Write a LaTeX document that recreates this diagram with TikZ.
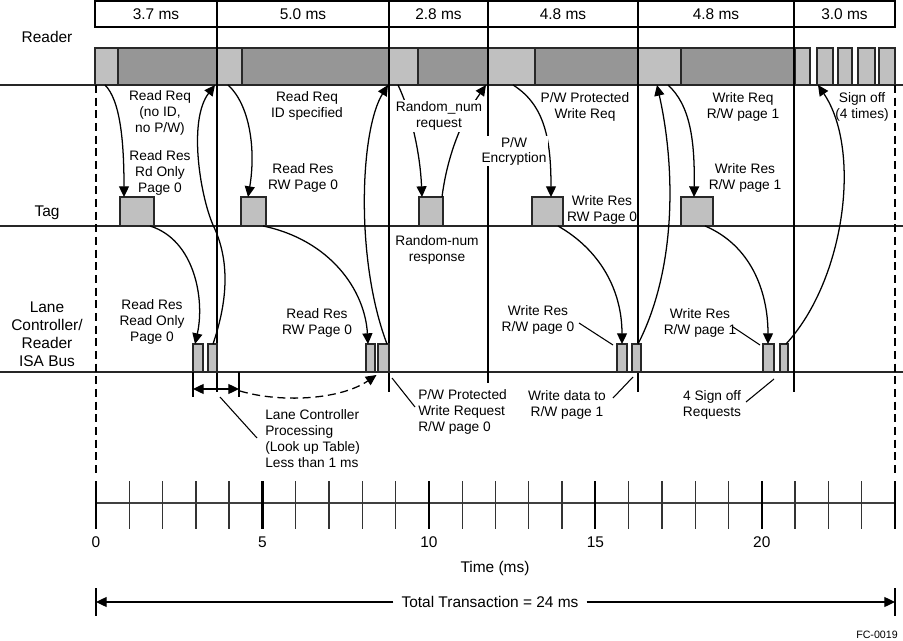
\documentclass[tikz,border=0pt]{standalone}
\usepackage{fontspec}
\setmainfont{Liberation Sans}
\usetikzlibrary{arrows.meta,calc}
\definecolor{lgray}{RGB}{192,192,192}
\definecolor{dgray}{RGB}{150,150,150}
\definecolor{edgec}{RGB}{40,40,40}
\newcommand\mkbox[7]{\node[#1,anchor=north west,minimum width={(#4-#3)*0.75pt},minimum height={(#6-#5)*0.75pt}] (#2) at (#3,#5) {#7};}
\begin{document}
\begin{tikzpicture}[x=0.75pt,y=-0.75pt,
  big/.style={font=\fontsize{11.6}{13.5}\selectfont, inner sep=0pt, align=center},
  sml/.style={font=\fontsize{10.3}{12}\selectfont, align=center, inner sep=0pt},
  hdr/.style={draw=black, line width=1pt, font=\fontsize{11.6}{13.5}\selectfont, inner sep=0pt, outer sep=0pt},
  lbox/.style={draw=edgec, fill=lgray, line width=0.9pt, inner sep=0pt, outer sep=0pt},
  dbox/.style={draw=edgec, fill=dgray, line width=0.9pt, inner sep=0pt, outer sep=0pt},
  rowline/.style={line width=1.2pt, black!85},
  divline/.style={line width=1pt},
  dashline/.style={line width=1pt, dash pattern=on 6pt off 3.5pt},
  arr/.style={line width=0.95pt, -{Triangle[length=8pt,width=7.5pt]}},
  leader/.style={line width=0.8pt},
  tickline/.style={line width=1pt, black!80},
  majtick/.style={line width=1.7pt, black}
]
\useasboundingbox (0,0) rectangle (903,641);

% header
\mkbox{hdr}{h1}{95}{217}{1}{27}{3.7 ms}
\mkbox{hdr}{h2}{217}{389}{1}{27}{5.0 ms}
\mkbox{hdr}{h3}{389}{488}{1}{27}{2.8 ms}
\mkbox{hdr}{h4}{488}{638}{1}{27}{4.8 ms}
\mkbox{hdr}{h5}{638}{794}{1}{27}{4.8 ms}
\mkbox{hdr}{h6}{794}{895}{1}{27}{3.0 ms}

% reader bar
\mkbox{lbox}{r1l}{95}{118}{48}{85}{}
\mkbox{dbox}{r1d}{118}{217}{48}{85}{}
\mkbox{lbox}{r2l}{217}{242}{48}{85}{}
\mkbox{dbox}{r2d}{242}{389}{48}{85}{}
\mkbox{lbox}{r3l}{389}{418}{48}{85}{}
\mkbox{dbox}{r3d}{418}{488}{48}{85}{}
\mkbox{lbox}{r4l}{488}{535}{48}{85}{}
\mkbox{dbox}{r4d}{535}{638}{48}{85}{}
\mkbox{lbox}{r5l}{638}{681}{48}{85}{}
\mkbox{dbox}{r5d}{681}{794}{48}{85}{}
\mkbox{lbox}{r6a}{795}{810}{48}{85}{}
\mkbox{lbox}{r6b}{817}{833}{48}{85}{}
\mkbox{lbox}{r6c}{838}{852}{48}{85}{}
\mkbox{lbox}{r6d}{858}{875}{48}{85}{}
\mkbox{lbox}{r6e}{879}{895}{48}{85}{}

% row lines
\coordinate (ra) at (0,85);  \coordinate (rb) at (903,85);
\coordinate (ta) at (0,226); \coordinate (tb) at (903,226);
\coordinate (ia) at (0,372); \coordinate (ib) at (903,372);
\draw[rowline] (ra) -- (rb);
\draw[rowline] (ta) -- (tb);
\draw[rowline] (ia) -- (ib);

% dividers
\draw[divline] (h1.north east) -- ++(0,391);
\draw[divline] (h2.north east) -- ++(0,391);
\draw[divline] (h3.north east) -- ++(0,382);
\draw[divline] (h4.north east) -- ++(0,391);
\draw[divline] (h5.north east) -- ++(0,391);

% dashed borders
\draw[dashline] ($(r1l.south west)+(1,0)$) -- ++(0,390);
\draw[dashline] (r6e.south east) -- ++(0,390);

% row labels
\node[big] (lreader) at (47,37) {Reader};
\node[big] (ltag) at (47,213) {Tag};
\node[big] (lisa) at (47,334) {Lane\\Controller/\\Reader\\ISA Bus};

% tag boxes
\mkbox{lbox}{t1}{120}{154}{197}{226}{}
\mkbox{lbox}{t2}{241}{266}{197}{226}{}
\mkbox{lbox}{t3}{419}{443}{197}{226}{}
\mkbox{lbox}{t4}{532}{563}{197}{226}{}
\mkbox{lbox}{t5}{681}{713}{197}{226}{}

% ISA boxes
\mkbox{lbox}{i1}{193}{203}{344}{372}{}
\mkbox{lbox}{i2}{208}{217}{344}{372}{}
\mkbox{lbox}{i3}{366}{375}{344}{372}{}
\mkbox{lbox}{i4}{378}{389}{344}{372}{}
\mkbox{lbox}{i5}{617}{627}{344}{372}{}
\mkbox{lbox}{i6}{632}{641}{344}{372}{}
\mkbox{lbox}{i7}{763}{774}{344}{372}{}
\mkbox{lbox}{i8}{780}{788}{344}{372}{}

% arrows
\draw[arr] ($(r1l.south west)+(10,0)$) .. controls (120,100) and (124,140) .. ($(t1.north west)+(4,0)$);
\draw[arr] ($(i2.north west)+(5,0)$) .. controls (228,300) and (230,260) .. (213,225) .. controls (200,195) and (188,120) .. ($(r1d.south east)+(-2,0)$);
\draw[arr] ($(t1.south west)+(30,0)$) .. controls (195,240) and (205,300) .. ($(i1.north west)+(2,0)$);
\draw[arr] ($(r2l.south west)+(11,0)$) .. controls (250,105) and (256,150) .. ($(t2.north west)+(7,0)$);
\draw[arr] ($(i4.north west)+(9,0)$) .. controls (355,260) and (360,130) .. ($(r2d.south east)+(-1,0)$);
\draw[arr] ($(t2.south west)+(22,0)$) .. controls (330,240) and (365,290) .. ($(i3.north west)+(2,0)$);
\draw[arr] ($(r3l.south west)+(9,0)$) .. controls (410,110) and (420,150) .. ($(t3.north west)+(3,0)$);
\draw[arr] ($(t3.north east)+(-1,0)$) .. controls (448,150) and (465,115) .. ($(r3d.south east)+(-2,0)$);
\draw[arr] ($(r4l.south west)+(25,0)$) .. controls (545,105) and (551,140) .. ($(t4.north west)+(19,0)$);
\draw[arr] ($(t4.south west)+(26,0)$) .. controls (600,250) and (622,290) .. ($(i5.north west)+(5,0)$);
\draw[arr] ($(i6.north west)+(6,0)$) .. controls (676,270) and (676,170) .. ($(r5l.south west)+(19,0)$);
\draw[arr] ($(r5l.south west)+(30,0)$) .. controls (690,105) and (695,140) .. ($(t5.north west)+(13,0)$);
\draw[arr] ($(t5.south west)+(24,0)$) .. controls (750,245) and (768,290) .. ($(i7.north west)+(5,0)$);
\draw[arr] ($(i8.north west)+(6,0)$) .. controls (845,280) and (862,150) .. ($(r6b.south west)+(1,0)$);

% labels, reader -> tag
\node[sml] (n1) at (160,113) {Read Req\\(no ID,\\no P/W)};
\node[sml] (n2) at (160,173) {Read Res\\Rd Only\\Page 0};
\node[sml] (n3) at (307,106) {Read Req\\ID specified};
\node[sml] (n4) at (303,178) {Read Res\\RW Page 0};
\node[sml, fill=white, inner sep=1pt] (n5) at (439,116) {Random\_num\\request};
\node[sml] (n6) at (585,107) {P/W Protected\\Write Req};
\node[sml, fill=white, inner sep=1pt, font=\fontsize{10.3}{11.2}\selectfont] (n7) at (514,151) {P/W\\Encryption};
\node[sml] (n8) at (602,210) {Write Res\\RW Page 0};
\node[sml] (n9) at (743,107) {Write Req\\R/W page 1};
\node[sml] (n10) at (745,178) {Write Res\\R/W page 1};
\node[sml] (n11) at (862,107) {Sign off\\(4 times)};

% labels, tag -> ISA
\node[sml] (m1) at (437,250) {Random-num\\response};
\node[sml] (m2) at (152,322) {Read Res\\Read Only\\Page 0};
\node[sml] (m3) at (317,323) {Read Res\\RW Page 0};
\node[sml] (m4) at (538,320) {Write Res\\R/W page 0};
\node[sml] (m5) at (700,323) {Write Res\\R/W page 1};
\coordinate (w0L) at (579,323);
\coordinate (w1L) at (733,327);
\draw[leader] (w0L) -- ($(i5.north west)+(-4,1)$);
\draw[leader] (w1L) -- ($(i7.north west)+(-3,1)$);

% below ISA
\coordinate (q1) at (239,372);
\draw[divline] (i1.south west) -- ++(0,25);
\draw[divline] (q1) -- ++(0,25);
\draw[line width=0.95pt, {Triangle[length=8pt,width=7.5pt]}-{Triangle[length=8pt,width=7.5pt]}] ($(i1.south west)+(0,17)$) -- ($(q1)+(0,17)$);
\draw[line width=0.95pt, dash pattern=on 6pt off 3.5pt, -{Triangle[length=8pt,width=7.5pt]}] ($(q1)+(1,19)$) .. controls (280,403) and (340,400) .. ($(i3.south east)!0.5!(i4.south west)+(0,3)$);

\node[sml, anchor=west, align=left] (proc) at (265,439) {Lane Controller\\Processing\\(Look up Table)\\Less than 1 ms};
\draw[leader] ($(proc.west)+(-8,-1)$) -- ($(i2.south west)+(12,25)$);
\node[sml, anchor=west, align=left] (pwr) at (418,412) {P/W Protected\\Write Request\\R/W page 0};
\draw[leader] ($(pwr.west)+(-3,-5)$) -- ($(i4.south east)+(3,6)$);
\node[sml] (wd) at (567,405) {Write data to\\R/W page 1};
\coordinate (wdL) at (613,398);
\draw[leader] (wdL) -- ($(i6.south west)+(1,5)$);
\node[sml] (so) at (712,405) {4 Sign off\\Requests};
\coordinate (soL) at (746,402);
\draw[leader] (soL) -- ($(i7.south east)+(0,7)$);

% time axis
\coordinate (ax0) at (96,503);
\coordinate (ax24) at (895,503);
\draw[line width=1.7pt, black!75] (ax0) -- (ax24);
\foreach \k in {0,...,24}{
  \pgfmathsetmacro\xx{96+\k*33.29}
  \draw[tickline] (\xx,481) -- (\xx,529);
}
\foreach \k in {0,5,10,15,20,24}{
  \pgfmathsetmacro\xx{96+\k*33.29}
  \draw[majtick] (\xx,481) -- (\xx,529);
}
\foreach \k in {0,5,10,15,20}{
  \pgfmathsetmacro\xx{96+\k*33.29}
  \node[big] (lab\k) at (\xx,542) {\k};
}
\node[big] (tms) at (495,568) {Time (ms)};

% total
\node[big, fill=white, inner sep=6pt] (tot) at (490,602) {Total Transaction = 24 ms};
\coordinate (tl) at (96,602);
\coordinate (tr) at (895,602);
\draw[line width=1pt] (96,588) -- (96,616);
\draw[line width=1pt] (895,588) -- (895,616);
\draw[arr] (tot) -- (tl);
\draw[arr] (tot) -- (tr);

\node[font=\fontsize{8}{9}\selectfont, inner sep=0pt] (fc) at (877,635) {FC-0019};
\end{tikzpicture}
\end{document}
